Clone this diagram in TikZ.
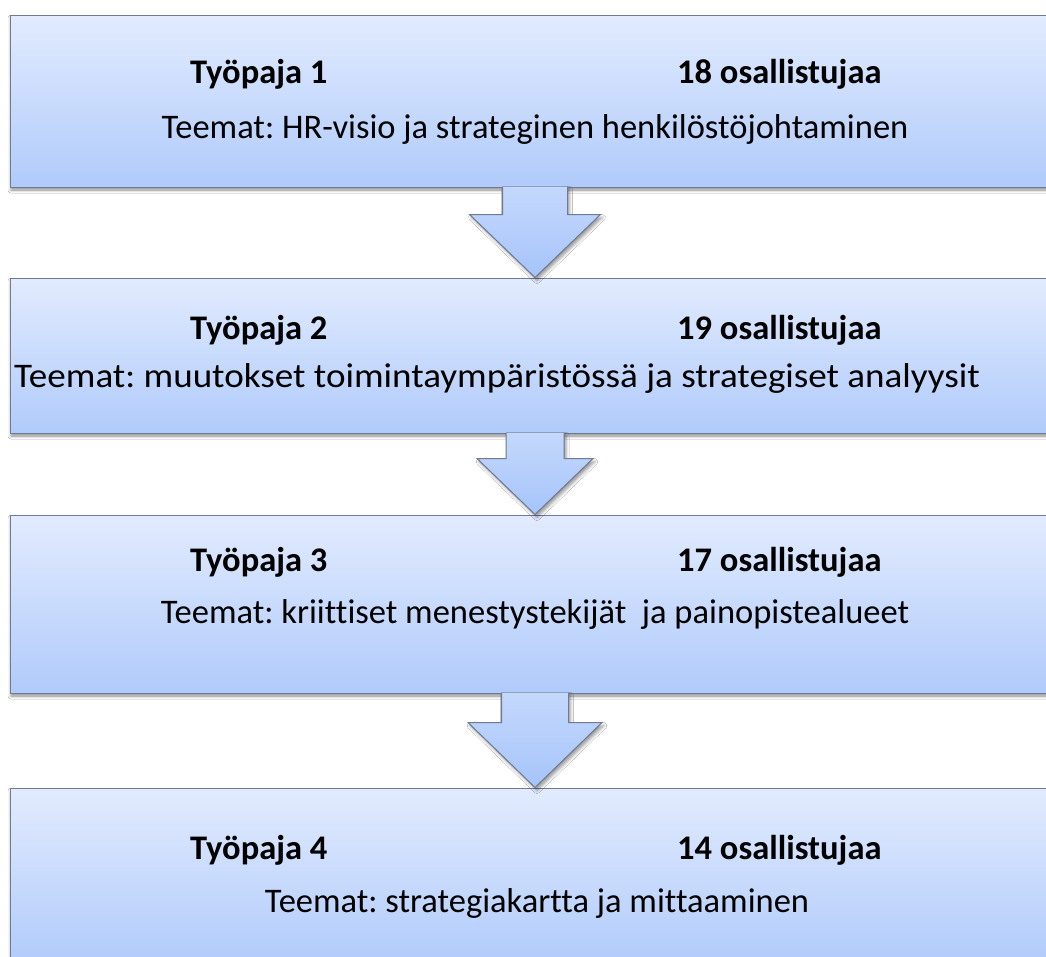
\documentclass[tikz,border=0pt]{standalone}
\usepackage{fontspec}
\setmainfont{Carlito}[Ligatures=NoCommon]
\usetikzlibrary{calc,shadows.blur}
\frenchspacing

\definecolor{boxtop}{RGB}{226,235,254}
\definecolor{boxbot}{RGB}{176,203,251}
\definecolor{arrtop}{RGB}{196,216,252}
\definecolor{arrbot}{RGB}{166,196,250}
\definecolor{edge}{RGB}{112,122,148}

\tikzset{
  stage/.style={rectangle, minimum width=1050pt, inner sep=0pt,
    top color=boxtop, bottom color=boxbot, draw=edge, line width=1pt,
    blur shadow={shadow xshift=1pt, shadow yshift=-3pt,
      shadow blur radius=3pt, shadow opacity=45}},
  title/.style={font=\fontsize{34.5}{41}\selectfont\bfseries,
    anchor=base west, inner sep=0pt},
  theme/.style={font=\fontsize{34.5}{41}\selectfont,
    anchor=base, inner sep=0pt},
  arrowfill/.style={top color=arrtop, bottom color=arrbot,
    blur shadow={shadow xshift=2pt, shadow yshift=-3pt,
      shadow blur radius=3pt, shadow opacity=40}},
  arrowedge/.style={draw=edge, line width=1pt, line join=miter},
}

% block arrow below box #1 pointing at box #2:
% #3 half shaft width, #4 half head width, #5 shaft length
\newcommand\stagearrow[5]{%
  \fill[arrowfill]
    ($(#1.south)+(-#3,-1.2)$) -- ($(#1.south)+(-#3,#5)$)
    -- ($(#1.south)+(-#4,#5)$) -- (#2.north)
    -- ($(#1.south)+(#4,#5)$) -- ($(#1.south)+(#3,#5)$)
    -- ($(#1.south)+(#3,-1.2)$) -- cycle;
  \draw[arrowedge]
    ($(#1.south)+(-#3,-0.5)$) -- ($(#1.south)+(-#3,#5)$)
    -- ($(#1.south)+(-#4,#5)$) -- (#2.north)
    -- ($(#1.south)+(#4,#5)$) -- ($(#1.south)+(#3,#5)$)
    -- ($(#1.south)+(#3,-0.5)$);
}

\begin{document}
\begin{tikzpicture}[x=1pt,y=-1pt]
  \useasboundingbox (0,0) rectangle (1046,956);
  \clip (0,0) rectangle (1046,956);
  \fill[white] (0,0) rectangle (1046,956);

  % workshop boxes
  \node[stage, minimum height=172pt] (b1) at (535,101)   {};
  \node[stage, minimum height=155pt] (b2) at (535,355.5) {};
  \node[stage, minimum height=178pt] (b3) at (535,604)   {};
  \node[stage, minimum height=175pt] (b4) at (535,875.5) {};

  % arrows between the workshops
  \stagearrow{b1}{b2}{32.5}{65.5}{27}
  \stagearrow{b2}{b3}{29}{58}{25}
  \stagearrow{b3}{b4}{33.5}{67}{29}

  % texts
  \node[title] (t1) at (190,83)  {Työpaja 1};
  \node[title] (p1) at (677,83)  {18 osallistujaa};
  \node[theme] (m1) at (535,138) {Teemat: HR-visio ja strateginen henkilöstöjohtaminen};

  \node[title] (t2) at (190,339) {Työpaja 2};
  \node[title] (p2) at (677,339) {19 osallistujaa};
  \node[theme, anchor=base west] (m2) at (14,387)
    {\scalebox{1.075}[1]{Teemat: muutokset toimintaympäristössä ja strategiset analyysit}};

  \node[title] (t3) at (190,571) {Työpaja 3};
  \node[title] (p3) at (677,571) {17 osallistujaa};
  \node[theme] (m3) at (535,623) {Teemat: kriittiset menestystekijät\ \ ja painopistealueet};

  \node[title] (t4) at (190,859) {Työpaja 4};
  \node[title] (p4) at (677,859) {14 osallistujaa};
  \node[theme] (m4) at (537,912) {Teemat: strategiakartta ja mittaaminen};
\end{tikzpicture}
\end{document}
